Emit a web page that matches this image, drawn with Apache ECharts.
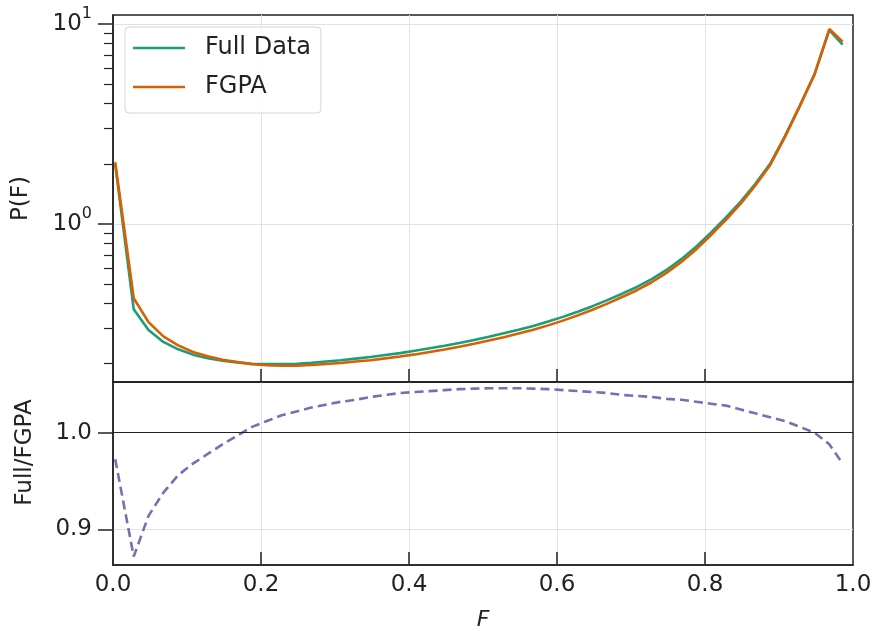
<!DOCTYPE html>
<html><head><meta charset="utf-8">
<script src="https://cdn.jsdelivr.net/npm/echarts@6/dist/echarts.min.js"></script>
<style>html,body{margin:0;padding:0;background:#fff}#c{width:875px;height:631px}</style>
</head><body><div id="c"></div>
<script>
const F = [0.003, 0.028, 0.048, 0.068, 0.088, 0.108, 0.128, 0.148, 0.168, 0.188,
  0.208, 0.228, 0.248, 0.268, 0.288, 0.308, 0.328, 0.348, 0.368, 0.388,
  0.408, 0.428, 0.448, 0.468, 0.488, 0.508, 0.528, 0.548, 0.568, 0.588,
  0.608, 0.628, 0.648, 0.668, 0.688, 0.708, 0.728, 0.748, 0.768, 0.788,
  0.808, 0.828, 0.848, 0.868, 0.888, 0.908, 0.928, 0.948, 0.968, 0.986];
const fullData = [1.98, 0.374, 0.295, 0.257, 0.236, 0.222, 0.213, 0.207, 0.203, 0.200,
  0.199, 0.199, 0.200, 0.202, 0.205, 0.208, 0.212, 0.216, 0.221, 0.226,
  0.232, 0.239, 0.246, 0.254, 0.263, 0.273, 0.284, 0.296, 0.309, 0.325,
  0.343, 0.364, 0.388, 0.416, 0.448, 0.484, 0.530, 0.589, 0.667, 0.770,
  0.905, 1.075, 1.29, 1.59, 2.00, 2.75, 3.90, 5.60, 9.33, 7.90];
const fgpa = [2.036, 0.425, 0.323, 0.274, 0.247, 0.229, 0.218, 0.2095, 0.2036, 0.1988,
  0.1966, 0.1955, 0.1957, 0.1969, 0.1992, 0.2016, 0.2050, 0.2083, 0.2127, 0.2171,
  0.2226, 0.2291, 0.2356, 0.2431, 0.2516, 0.2610, 0.2715, 0.2830, 0.2956, 0.3110,
  0.3285, 0.3490, 0.3724, 0.3996, 0.4312, 0.4663, 0.5111, 0.5691, 0.6451, 0.7461,
  0.8786, 1.0457, 1.2598, 1.5588, 1.9685, 2.7174, 3.8767, 5.60, 9.443, 8.161];
const ratio = [0.9725, 0.872, 0.914, 0.938, 0.956, 0.968, 0.978, 0.988, 0.997, 1.006,
  1.012, 1.018, 1.022, 1.026, 1.029, 1.032, 1.034, 1.037, 1.039, 1.041,
  1.042, 1.043, 1.044, 1.045, 1.0455, 1.046, 1.046, 1.046, 1.0455, 1.045,
  1.044, 1.043, 1.042, 1.041, 1.039, 1.038, 1.037, 1.035, 1.034, 1.032,
  1.030, 1.028, 1.024, 1.020, 1.016, 1.012, 1.006, 1.000, 0.988, 0.968];
const xTickLabels = [0, 0.2, 0.4, 0.6, 0.8, 1.0];
const xInnerTicks = [0.2, 0.4, 0.6, 0.8];
const logMajor = [1, 10];
const logMinor = [0.2, 0.3, 0.4, 0.5, 0.6, 0.7, 0.8, 0.9, 2, 3, 4, 5, 6, 7, 8, 9];
const ratioTicks = [0.9, 1.0];

const FONT = 'DejaVu Sans';
const TXT = '#222';
const GRIDC = '#e2e2e2';
const FS = 23;
const chart = echarts.init(document.getElementById('c'), null, {renderer: 'canvas'});
const pairs = (ys) => F.map((f, i) => [f, ys[i]]);

chart.setOption({
  backgroundColor: '#fff',
  animation: false,
  textStyle: {fontFamily: FONT},
  grid: [
    {left: 113, top: 15, width: 740, height: 367, containLabel: false, outerBoundsMode: 'none',
     show: true, borderColor: '#222', borderWidth: 1.5, backgroundColor: 'transparent'},
    {left: 113, top: 382, width: 740, height: 183, containLabel: false, outerBoundsMode: 'none',
     show: true, borderColor: '#222', borderWidth: 1.5, backgroundColor: 'transparent'}
  ],
  legend: {
    data: ['Full Data', 'FGPA'],
    orient: 'vertical', left: 125, top: 27,
    icon: 'rect', itemWidth: 52, itemHeight: 2.5, itemGap: 13,
    padding: [8, 10, 13, 8],
    backgroundColor: 'rgba(255,255,255,0.85)', borderColor: '#d4d4d4', borderWidth: 1, borderRadius: 4,
    textStyle: {fontSize: 24, color: TXT, fontFamily: FONT, lineHeight: 26, padding: [0, 0, 0, 15]}
  },
  xAxis: [
    {type: 'value', gridIndex: 0, min: 0, max: 1, interval: 0.2,
     axisLine: {show: true, lineStyle: {color: '#222', width: 1.5}},
     axisTick: {show: true, inside: true, length: 13, customValues: xInnerTicks, lineStyle: {color: '#222', width: 1.5}},
     axisLabel: {show: false},
     splitLine: {show: true, lineStyle: {color: GRIDC, width: 1}}},
    {type: 'value', gridIndex: 1, min: 0, max: 1, interval: 0.2,
     axisLine: {show: true, lineStyle: {color: '#222', width: 1.5}},
     axisTick: {show: true, inside: true, length: 13, customValues: xInnerTicks, lineStyle: {color: '#222', width: 1.5}},
     axisLabel: {show: true, customValues: xTickLabels, margin: 9, fontSize: FS, color: TXT, fontFamily: FONT,
       formatter: v => v.toFixed(1)},
     splitLine: {show: true, lineStyle: {color: GRIDC, width: 1}},
     name: 'F', nameLocation: 'middle', nameGap: 44,
     nameTextStyle: {fontSize: 22, fontStyle: 'italic', color: TXT, fontFamily: FONT}}
  ],
  yAxis: [
    {type: 'log', logBase: 10, gridIndex: 0, min: 0.162, max: 11.1, position: 'left', offset: 0,
     axisLine: {show: true, lineStyle: {color: '#222', width: 1.5}},
     axisTick: {show: true, inside: false, length: 15, customValues: logMajor, lineStyle: {color: '#222', width: 1.5}},
     axisLabel: {show: true, customValues: logMajor, margin: 21, color: TXT,
       formatter: v => '{b|10}{s|' + Math.round(Math.log10(v)) + '}',
       rich: {b: {fontSize: FS, fontFamily: FONT, color: TXT, lineHeight: 36},
              s: {fontSize: 16, fontFamily: FONT, color: TXT, verticalAlign: 'top', lineHeight: 14}}},
     splitLine: {show: true, lineStyle: {color: GRIDC, width: 1}},
     name: 'P(F)', nameLocation: 'middle', nameGap: 80,
     nameTextStyle: {fontSize: FS, color: TXT, fontFamily: FONT}},
    {type: 'log', logBase: 10, gridIndex: 0, min: 0.162, max: 11.1, position: 'left', offset: 0,
     axisLine: {show: false},
     axisTick: {show: true, inside: false, length: 9, customValues: logMinor, lineStyle: {color: '#222', width: 1.2}},
     axisLabel: {show: false}, splitLine: {show: false}},
    {type: 'value', gridIndex: 1, min: 0.8632, max: 1.0524, position: 'left', offset: 0,
     axisLine: {show: true, lineStyle: {color: '#222', width: 1.5}},
     axisTick: {show: true, inside: false, length: 15, customValues: ratioTicks, lineStyle: {color: '#222', width: 1.5}},
     axisLabel: {show: true, customValues: ratioTicks, margin: 21, fontSize: FS, color: TXT, fontFamily: FONT,
       formatter: v => v.toFixed(1)},
     splitLine: {show: true, lineStyle: {color: GRIDC, width: 1}},
     name: 'Full/FGPA', nameLocation: 'middle', nameGap: 76,
     nameTextStyle: {fontSize: FS, color: TXT, fontFamily: FONT, padding: [0, 0, 0, 42]}}
  ],
  series: [
    {name: 'Full Data', type: 'line', xAxisIndex: 0, yAxisIndex: 0, data: pairs(fullData),
     symbol: 'none', color: '#1b9e77', lineStyle: {color: '#1b9e77', width: 2.6}},
    {name: 'FGPA', type: 'line', xAxisIndex: 0, yAxisIndex: 0, data: pairs(fgpa),
     symbol: 'none', color: '#d95f02', lineStyle: {color: '#d95f02', width: 2.6}},
    {name: 'ratio', type: 'line', xAxisIndex: 1, yAxisIndex: 2, data: pairs(ratio),
     symbol: 'none', color: '#7570b3', lineStyle: {color: '#7570b3', width: 2.6, type: [9, 5]},
     markLine: {silent: true, symbol: 'none', label: {show: false},
       lineStyle: {color: '#222', width: 1.2, type: 'solid'}, data: [{yAxis: 1.0}]}}
  ]
});
</script></body></html>
